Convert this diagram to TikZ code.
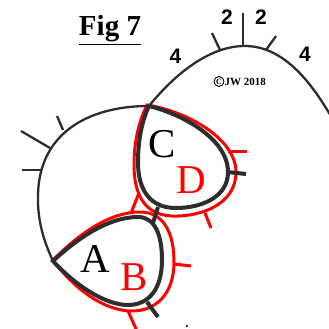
\documentclass[tikz,border=0pt]{standalone}
\usepackage{fontspec}
\setmainfont{Liberation Serif}
\newfontfamily\numfont{Liberation Sans}
\definecolor{ink}{RGB}{45,45,45}
\begin{document}
\begin{tikzpicture}[x=1pt,y=-1pt,
  curve/.style={draw=ink,line width=2.3pt},
  tear/.style={draw=ink,line width=4pt},
  redline/.style={draw=red,line width=3pt},
  big/.style={font=\fontsize{41}{41}\selectfont,anchor=base,inner sep=0pt},
  num/.style={font=\numfont\bfseries\fontsize{21}{21}\selectfont,inner sep=0pt}]
\useasboundingbox (0,0) rectangle (329,329);
\clip (0,0) rectangle (329,329);
% red outlines
\draw[redline] (147,105) .. controls (190,112) and (236,140) .. (236,172)
  .. controls (236,205) and (200,217) .. (172,216)
  .. controls (145,215) and (134,195) .. (134,165)
  .. controls (134,135) and (142,115) .. (147,105) -- cycle;
\draw[redline] (228,151) -- (247,151);
\draw[redline] (205,213) -- (211,228);
\draw[redline] (139,193) -- (131,213);
\draw[redline] (53,260) .. controls (80,233) and (110,212) .. (140,212)
  .. controls (165,212) and (174,235) .. (174,262)
  .. controls (174,295) and (155,311) .. (132,311)
  .. controls (105,311) and (75,290) .. (53,260) -- cycle;
\draw[redline] (174,264) -- (191,266);
\draw[redline] (128,311) -- (137,331);
% thin black curve
\draw[curve] (332,118) .. controls (310,80) and (282,45) .. (243,46)
  .. controls (205,47) and (170,80) .. (149,106)
  .. controls (86,106) and (39,135) .. (38,195)
  .. controls (37,225) and (47,248) .. (53,261);
\draw[curve] (42,170) -- (22,170);
\draw[curve] (50,148) -- (21,131);
\draw[curve] (63,130) -- (57,116);
\draw[curve] (220,50) -- (212,33);
\draw[curve] (243,46) -- (243,13);
\draw[curve] (266,50) -- (276,36);
% thick teardrops
\draw[tear] (149,106) .. controls (185,115) and (228,140) .. (228,172)
  .. controls (228,198) and (200,208) .. (176,208)
  .. controls (150,208) and (138,190) .. (138,162)
  .. controls (138,135) and (144,116) .. (149,106) -- cycle;
\draw[tear] (227,172) -- (246,174);
\draw[tear] (53,261) .. controls (80,236) and (110,217) .. (138,217)
  .. controls (155,217) and (162,235) .. (162,260)
  .. controls (162,290) and (148,305) .. (128,305)
  .. controls (105,305) and (75,285) .. (53,261) -- cycle;
\draw[tear] (147,302) -- (158,317);
\draw[tear] (158,207) -- (153,223);
\fill[ink] (187,326) circle (1.3);
% texts
\node[inner sep=0pt,anchor=base,font=\bfseries\fontsize{29}{29}\selectfont] (title) at (110,36) {\underline{Fig 7}};
\node[num] (n1) at (227,17) {2};
\node[num] (n2) at (261,17) {2};
\node[num] (n3) at (175.5,56.5) {4};
\node[num] (n4) at (305,54) {4};
\node[circle,draw=black,line width=0.9pt,minimum size=10pt,inner sep=0pt,font=\bfseries\fontsize{8}{8}\selectfont] (cc) at (219,81.5) {C};
\node[inner sep=0pt,anchor=west,font=\bfseries\fontsize{11}{11}\selectfont] (copy) at (224.5,81.8) {JW 2018};
\node[big,text=black] (A) at (95.5,272) {A};
\node[big,text=red] (B) at (134,290) {B};
\node[big,text=black] (C) at (162,157) {C};
\node[big,text=red] (D) at (191,193) {D};
\end{tikzpicture}
\end{document}
